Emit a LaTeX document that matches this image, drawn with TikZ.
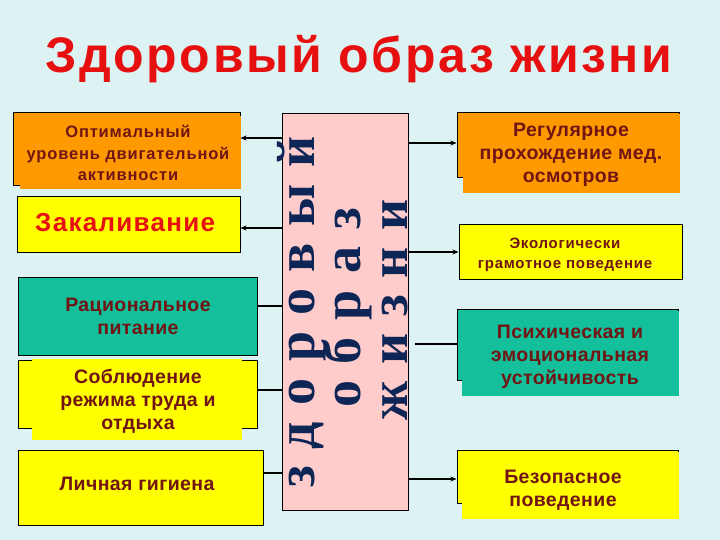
\documentclass[tikz,border=0pt]{standalone}
\usepackage{fontspec}
\setmainfont{Liberation Sans}
\newfontfamily\serifspaced[LetterSpace=31]{Liberation Serif}
\newfontfamily\sanswide[LetterSpace=5]{Liberation Sans}
\newfontfamily\sansspaced[LetterSpace=2]{Liberation Sans}
\usetikzlibrary{arrows.meta}
\definecolor{bgcol}{HTML}{DDF3F3}
\definecolor{titlered}{HTML}{E61010}
\definecolor{txtred}{HTML}{701414}
\definecolor{boxorange}{HTML}{FF9900}
\definecolor{boxyellow}{HTML}{FFFF00}
\definecolor{boxteal}{HTML}{14BF9B}
\definecolor{boxpink}{HTML}{FFCCCC}
\definecolor{navy}{HTML}{0D2656}
\begin{document}
\begin{tikzpicture}[x=1pt,y=-1pt,
  box/.style={draw=black, line width=1pt, inner sep=0pt, rectangle},
  lbl/.style={align=center, text=txtred, inner sep=0pt,
    font=\sansspaced\fontsize{19.5}{23}\selectfont\bfseries},
  vert/.style={rotate=90, anchor=base, text=navy, inner sep=0pt,
    font=\serifspaced\fontsize{54}{54}\selectfont\bfseries},
  arr/.style={line width=1.5pt, -{Stealth[length=6pt,width=5pt]}},
  ln/.style={line width=1.5pt}]
\fill[bgcol] (0,0) rectangle (720,540);
\useasboundingbox (0,0) rectangle (720,540);
% title
\node[text=titlered, font=\sanswide\fontsize{50}{58}\selectfont\bfseries, anchor=base] (title) at (359,73) {Здоровый образ жизни};
% centre
\node[box, fill=boxpink, minimum width=126pt, minimum height=396pt] (C) at (345,312) {};
\node[vert] (w1) at (314,312) {здоровый};
\node[vert] (w2) at (360,308) {образ};
\node[vert] (w3) at (407,310) {жизни};
% left boxes
\node[box, fill=boxorange, minimum width=227pt, minimum height=73pt] (L1) at (126.5,149.5) {};
\fill[boxorange] (20,116) rectangle (241,189);
\node[lbl, font=\sanswide\fontsize{16.5}{21.5}\selectfont\bfseries] (t1) at (128,153) {Оптимальный\\уровень двигательной\\активности};
\node[box, fill=boxyellow, minimum width=223pt, minimum height=55pt] (L2) at (128.5,224.5) {};
\node[lbl, anchor=west, text=titlered, font=\sanswide\fontsize{26}{28}\selectfont\bfseries] (t2) at (35,223) {Закаливание};
\node[box, fill=boxteal, minimum width=239pt, minimum height=78pt] (L3) at (137.5,316) {};
\node[lbl] (t3) at (138,316) {Рациональное\\питание};
\node[box, fill=boxyellow, minimum width=239pt, minimum height=68pt] (L4) at (137.5,394) {};
\fill[boxyellow] (32,359) rectangle (242,440);
\node[lbl] (t4) at (138,401) {Соблюдение\\режима труда и\\отдыха};
\node[box, fill=boxyellow, minimum width=245pt, minimum height=75pt] (L5) at (140.5,487.5) {};
\node[lbl] (t5) at (137,484) {Личная гигиена};
% right boxes
\node[box, fill=boxorange, minimum width=222pt, minimum height=65pt] (R1) at (568,145.5) {};
\fill[boxorange] (463,114) rectangle (680,193);
\node[lbl] (t6) at (571,155) {Регулярное\\прохождение мед.\\осмотров};
\node[box, fill=boxyellow, minimum width=223pt, minimum height=54pt] (R2) at (570.5,252) {};
\node[lbl, font=\sanswide\fontsize{15}{20}\selectfont\bfseries] (t7) at (565,255) {Экологически\\грамотное поведение};
\node[box, fill=boxteal, minimum width=221pt, minimum height=71pt] (R3) at (567.5,344.5) {};
\fill[boxteal] (462,311) rectangle (679,396);
\node[lbl] (t8) at (570,357) {Психическая и\\эмоциональная\\устойчивость};
\node[box, fill=boxyellow, minimum width=221pt, minimum height=53pt] (R4) at (567.5,476.5) {};
\fill[boxyellow] (462,452) rectangle (679,519);
\node[lbl] (t9) at (563,490) {Безопасное\\поведение};
% connector levels
\coordinate (h1) at (0,138);
\coordinate (h2) at (0,228);
\coordinate (h3) at (0,306);
\coordinate (h4) at (0,390);
\coordinate (h5) at (0,473);
\coordinate (h6) at (0,143);
\coordinate (h7) at (0,252);
\coordinate (r3s) at (415,344);
\coordinate (h9) at (0,479);
\draw[arr] (C.west |- h1) -- (L1.east |- h1);
\draw[arr] (C.west |- h2) -- (L2.east |- h2);
\draw[ln] (C.west |- h3) -- (L3.east |- h3);
\draw[ln] (C.west |- h4) -- (L4.east |- h4);
\draw[ln] (C.west |- h5) -- (L5.east |- h5);
\draw[arr] (C.east |- h6) -- (R1.west |- h6);
\draw[arr] (C.east |- h7) -- (R2.west |- h7);
\draw[ln] (r3s) -- (R3.west |- r3s);
\draw[arr] (C.east |- h9) -- (R4.west |- h9);
\end{tikzpicture}
\end{document}
